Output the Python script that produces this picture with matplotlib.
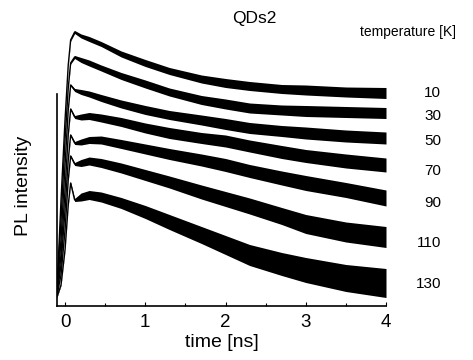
import matplotlib
matplotlib.use("Agg")
import matplotlib.pyplot as plt
import numpy as np

plt.rcParams['font.family'] = ['Liberation Sans', 'DejaVu Sans']

# time axis [ns]
time_ns = [-0.1, -0.05, 0.0, 0.04, 0.07, 0.12, 0.2, 0.3, 0.45, 0.7, 1.0, 1.3, 1.7, 2.0, 2.3, 2.7, 3.0, 3.5, 4.0]

temperatures = ["10", "30", "50", "70", "90", "110", "130"]

# PL intensity traces (vertically offset, arbitrary units)
pl_10 = [1.6, 10.6, 18.6, 24.1, 26.6, 27.4, 27.0, 26.7, 26.2, 25.2, 24.3, 23.5, 22.7, 22.3, 22.0, 21.7, 21.6, 21.4, 21.3]
pl_30 = [1.6, 8.6, 16.6, 21.8, 24.3, 24.9, 24.6, 24.3, 23.8, 23.0, 22.2, 21.4, 20.6, 20.2, 19.8, 19.6, 19.5, 19.4, 19.3]
pl_50 = [1.4, 6.6, 14.1, 19.6, 22.1, 21.6, 21.4, 21.2, 20.8, 20.2, 19.6, 19.1, 18.6, 18.2, 17.8, 17.5, 17.3, 17.0, 16.8]
pl_70 = [1.3, 5.1, 11.6, 17.1, 19.7, 18.9, 18.9, 19.0, 18.8, 18.4, 17.8, 17.3, 16.8, 16.5, 16.0, 15.4, 15.0, 14.5, 14.1]
pl_90 = [1.2, 4.1, 9.6, 14.6, 17.1, 16.3, 16.4, 16.6, 16.6, 16.2, 15.7, 15.2, 14.6, 14.1, 13.5, 12.8, 12.3, 11.6, 10.8]
pl_110 = [1.1, 3.1, 7.6, 12.6, 15.0, 14.2, 14.3, 14.5, 14.3, 13.8, 13.1, 12.4, 11.4, 10.7, 10.0, 9.0, 8.2, 7.4, 6.9]
pl_130 = [0.9, 2.1, 5.6, 10.1, 12.3, 10.6, 10.9, 11.1, 10.9, 10.3, 9.4, 8.4, 7.1, 6.1, 5.1, 4.2, 3.6, 2.8, 2.3]

# half-width of the noise envelope
noise_10 = [0.05, 0.05, 0.05, 0.05, 0.1, 0.15, 0.2, 0.25, 0.25, 0.3, 0.35, 0.35, 0.4, 0.45, 0.45, 0.45, 0.5, 0.5, 0.55]
noise_30 = [0.05, 0.05, 0.05, 0.05, 0.1, 0.15, 0.25, 0.3, 0.3, 0.35, 0.4, 0.4, 0.45, 0.5, 0.5, 0.5, 0.55, 0.55, 0.55]
noise_50 = [0.05, 0.05, 0.05, 0.05, 0.1, 0.15, 0.25, 0.3, 0.35, 0.4, 0.45, 0.45, 0.5, 0.55, 0.55, 0.55, 0.6, 0.6, 0.6]
noise_70 = [0.05, 0.05, 0.05, 0.05, 0.1, 0.15, 0.3, 0.35, 0.4, 0.45, 0.5, 0.55, 0.55, 0.6, 0.6, 0.65, 0.65, 0.7, 0.7]
noise_90 = [0.05, 0.05, 0.05, 0.05, 0.1, 0.15, 0.3, 0.35, 0.4, 0.45, 0.5, 0.55, 0.6, 0.65, 0.65, 0.7, 0.75, 0.75, 0.8]
noise_110 = [0.05, 0.05, 0.05, 0.05, 0.1, 0.15, 0.35, 0.4, 0.45, 0.5, 0.55, 0.6, 0.7, 0.75, 0.8, 0.85, 0.95, 1.0, 1.05]
noise_130 = [0.05, 0.05, 0.05, 0.05, 0.1, 0.15, 0.4, 0.45, 0.5, 0.55, 0.65, 0.75, 0.85, 0.95, 1.05, 1.15, 1.25, 1.35, 1.45]

# label vertical positions (same units)
label_y = [21.3, 19.0, 16.5, 13.5, 10.3, 6.3, 2.2]

x_ticks = [0, 1, 2, 3, 4]

traces = [pl_10, pl_30, pl_50, pl_70, pl_90, pl_110, pl_130]
noises = [noise_10, noise_30, noise_50, noise_70, noise_90, noise_110, noise_130]

fig = plt.figure(figsize=(4.73, 3.60), dpi=100)
ax = fig.add_axes([57 / 473, 54 / 360, 329 / 473, 286 / 360])

t = np.array(time_ns)
for tr, nz in zip(traces, noises):
    tr = np.array(tr)
    nz = np.array(nz)
    ax.fill_between(t, tr - nz, tr + nz, color='black', linewidth=0)
    ax.plot(t, tr, color='black', linewidth=1.0)

ax.set_xlim(-0.1, 4.0)
ax.set_ylim(0, 28.6)

for s in ['top', 'right']:
    ax.spines[s].set_visible(False)
ax.spines['left'].set_bounds(0, 21.2)
ax.spines['left'].set_linewidth(1.2)
ax.spines['bottom'].set_linewidth(1.2)

ax.set_xticks(x_ticks)
ax.set_xticks(np.arange(0.5, 4.0, 1.0), minor=True)
ax.tick_params(axis='x', which='major', direction='in', length=3, width=0.8, labelsize=13.5, pad=6)
ax.tick_params(axis='x', which='minor', direction='in', length=2, width=0.8)
ax.set_yticks([])

ax.set_xlabel('time [ns]', fontsize=14, labelpad=2)
ax.set_ylabel('PL intensity', fontsize=14)
ax.yaxis.set_label_coords(-0.075, 0.42)

fig.text(254 / 473, 1 - 19 / 360, 'QDs2', ha='center', va='center', fontsize=12.5)
fig.text(408 / 473, 1 - 32 / 360, 'temperature [K]', ha='center', va='center', fontsize=10)

trans = matplotlib.transforms.blended_transform_factory(fig.transFigure, ax.transData)
for lab, ly in zip(temperatures, label_y):
    ax.text(441 / 473, ly, lab, transform=trans, ha='right', va='center', fontsize=11)

fig.savefig('out.png', dpi=100)
